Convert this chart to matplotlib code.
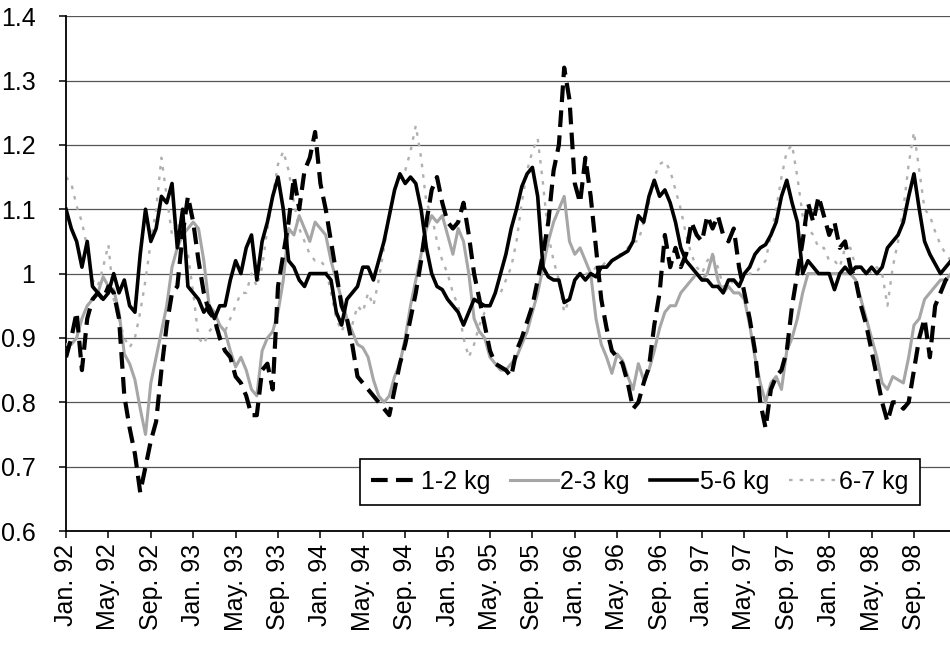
import numpy as np
from matplotlib import pyplot as plt

# tick labels every 4 months, Jan. 92 .. Sep. 98
tick_labels = ["Jan. 92", "May. 92", "Sep. 92", "Jan. 93", "May. 93", "Sep. 93",
               "Jan. 94", "May. 94", "Sep. 94", "Jan. 95", "May. 95", "Sep. 95",
               "Jan. 96", "May. 96", "Sep. 96", "Jan. 97", "May. 97", "Sep. 97",
               "Jan. 98", "May. 98", "Sep. 98"]

# half-month readings, 24 per year (1992 .. 1998)
kg_1_2 = [
    0.87, 0.90, 0.94, 0.85, 0.93, 0.96, 0.97, 0.96, 0.98, 0.97, 0.93, 0.81,
    0.76, 0.72, 0.66, 0.70, 0.74, 0.77, 0.85, 0.92, 0.97, 0.98, 1.06, 1.12,
    1.08, 1.02, 0.97, 0.94, 0.93, 0.90, 0.88, 0.87, 0.84, 0.83, 0.81, 0.78,
    0.78, 0.85, 0.86, 0.82, 0.98, 1.03, 1.08, 1.15, 1.10, 1.16, 1.18, 1.22,
    1.14, 1.10, 1.05, 1.00, 0.95, 0.93, 0.89, 0.84, 0.83, 0.82, 0.81, 0.80,
    0.79, 0.78, 0.82, 0.86, 0.89, 0.93, 0.97, 1.02, 1.08, 1.13, 1.15, 1.11,
    1.08, 1.07, 1.08, 1.11, 1.06, 1.00, 0.96, 0.92, 0.88, 0.86, 0.855, 0.85,
    0.84, 0.88, 0.90, 0.925, 0.95, 0.99, 1.03, 1.08, 1.16, 1.20, 1.32, 1.27,
    1.14, 1.11, 1.18, 1.12, 1.04, 0.96, 0.915, 0.88, 0.87, 0.86, 0.83, 0.79,
    0.80, 0.83, 0.855, 0.92, 0.97, 1.06, 1.01, 1.04, 1.01, 1.03, 1.08, 1.06,
    1.05, 1.09, 1.07, 1.09, 1.06, 1.05, 1.07, 1.01, 0.97, 0.93, 0.88, 0.80,
    0.76, 0.82, 0.84, 0.85, 0.88, 0.95, 1.00, 1.05, 1.11, 1.08, 1.12, 1.09,
    1.06, 1.08, 1.04, 1.05, 1.01, 0.99, 0.95, 0.92, 0.88, 0.84, 0.80, 0.77,
    0.80, 0.80, 0.79, 0.80, 0.85, 0.90, 0.93, 0.87, 0.95, 0.97, 0.99, 1.00,
]

kg_2_3 = [
    0.89, 0.89, 0.90, 0.93, 0.95, 0.96, 0.97, 0.995, 0.98, 0.975, 0.94, 0.875,
    0.86, 0.835, 0.79, 0.75, 0.83, 0.87, 0.91, 0.95, 1.01, 1.04, 1.06, 1.07,
    1.08, 1.07, 1.02, 0.95, 0.94, 0.92, 0.91, 0.88, 0.855, 0.87, 0.85, 0.82,
    0.81, 0.88, 0.90, 0.91, 0.94, 0.99, 1.07, 1.06, 1.09, 1.07, 1.05, 1.08,
    1.07, 1.06, 1.02, 0.99, 0.96, 0.93, 0.91, 0.89, 0.885, 0.87, 0.835, 0.81,
    0.80, 0.81, 0.84, 0.86, 0.90, 0.95, 0.99, 1.03, 1.07, 1.09, 1.08, 1.09,
    1.06, 1.03, 1.07, 1.05, 1.00, 0.93, 0.91, 0.90, 0.87, 0.86, 0.85, 0.85,
    0.86, 0.87, 0.89, 0.91, 0.94, 0.97, 1.01, 1.05, 1.08, 1.10, 1.12, 1.05,
    1.03, 1.04, 1.02, 1.00, 0.93, 0.89, 0.87, 0.845, 0.875, 0.865, 0.84, 0.82,
    0.86, 0.835, 0.85, 0.88, 0.915, 0.94, 0.95, 0.95, 0.97, 0.98, 0.99, 1.00,
    0.99, 1.00, 1.03, 0.99, 0.97, 0.98, 0.97, 0.97, 0.96, 0.92, 0.87, 0.83,
    0.80, 0.83, 0.84, 0.82, 0.88, 0.90, 0.93, 0.97, 1.00, 1.00, 1.00, 1.00,
    1.00, 1.00, 1.00, 1.00, 1.00, 0.99, 0.96, 0.93, 0.90, 0.87, 0.83, 0.82,
    0.84, 0.835, 0.83, 0.87, 0.92, 0.93, 0.96, 0.97, 0.98, 0.99, 0.99, 1.00,
]

kg_5_6 = [
    1.10, 1.07, 1.05, 1.01, 1.05, 0.98, 0.97, 0.96, 0.97, 1.00, 0.97, 0.99,
    0.95, 0.94, 1.03, 1.10, 1.05, 1.07, 1.12, 1.11, 1.14, 1.04, 1.10, 0.98,
    0.97, 0.96, 0.94, 0.95, 0.93, 0.95, 0.95, 0.99, 1.02, 1.00, 1.04, 1.06,
    0.99, 1.05, 1.08, 1.12, 1.15, 1.10, 1.02, 1.01, 0.99, 0.98, 1.00, 1.00,
    1.00, 1.00, 0.99, 0.94, 0.92, 0.96, 0.97, 0.98, 1.01, 1.01, 0.99, 1.02,
    1.05, 1.09, 1.13, 1.155, 1.14, 1.15, 1.14, 1.10, 1.04, 1.00, 0.98, 0.975,
    0.96, 0.95, 0.94, 0.92, 0.94, 0.96, 0.955, 0.95, 0.95, 0.97, 1.00, 1.03,
    1.07, 1.10, 1.135, 1.155, 1.165, 1.12, 1.01, 0.995, 0.99, 0.99, 0.955, 0.96,
    0.99, 1.00, 0.99, 1.00, 0.995, 1.01, 1.01, 1.02, 1.025, 1.03, 1.035, 1.05,
    1.09, 1.08, 1.12, 1.145, 1.12, 1.13, 1.11, 1.08, 1.04, 1.02, 1.01, 1.00,
    0.99, 0.99, 0.98, 0.98, 0.97, 0.99, 0.99, 0.98, 1.00, 1.01, 1.03, 1.04,
    1.045, 1.06, 1.08, 1.12, 1.145, 1.11, 1.08, 1.00, 1.02, 1.01, 1.00, 1.00,
    1.00, 0.975, 1.00, 1.01, 1.00, 1.01, 1.01, 1.00, 1.01, 1.00, 1.01, 1.04,
    1.05, 1.06, 1.08, 1.12, 1.155, 1.10, 1.05, 1.03, 1.015, 1.00, 1.01, 1.02,
]

kg_6_7 = [
    1.15, 1.14, 1.105, 1.08, 1.04, 0.99, 0.98, 1.01, 1.045, 0.96, 0.93, 0.90,
    0.885, 0.90, 0.94, 0.99, 1.05, 1.10, 1.18, 1.12, 1.06, 1.08, 1.06, 1.03,
    0.97, 0.90, 0.89, 0.91, 0.92, 0.90, 0.91, 0.93, 0.95, 0.97, 0.97, 1.00,
    0.98, 1.01, 1.07, 1.12, 1.17, 1.19, 1.16, 1.11, 1.07, 1.05, 1.03, 1.02,
    1.02, 1.01, 0.97, 0.93, 0.91, 0.93, 0.92, 0.95, 0.94, 0.97, 0.95, 0.99,
    1.04, 1.09, 1.13, 1.15, 1.16, 1.19, 1.23, 1.18, 1.11, 1.09, 1.05, 1.02,
    1.00, 0.97, 0.95, 0.90, 0.87, 0.89, 0.92, 0.94, 0.95, 0.97, 0.97, 0.99,
    1.01, 1.05, 1.11, 1.16, 1.19, 1.21, 1.14, 1.06, 1.02, 0.99, 0.94, 0.96,
    0.99, 1.00, 1.00, 1.00, 1.01, 1.01, 1.02, 1.02, 1.03, 1.03, 1.04, 1.05,
    1.05, 1.08, 1.11, 1.15, 1.17, 1.175, 1.16, 1.13, 1.10, 1.06, 1.03, 1.01,
    1.00, 1.02, 1.03, 1.01, 0.98, 0.98, 0.99, 0.99, 0.99, 1.00, 1.00, 1.01,
    1.02, 1.06, 1.10, 1.15, 1.19, 1.20, 1.15, 1.09, 1.07, 1.06, 1.04, 1.04,
    1.02, 1.02, 1.01, 1.04, 1.04, 1.01, 1.00, 1.01, 1.00, 1.01, 1.00, 0.95,
    1.01, 1.05, 1.10, 1.17, 1.22, 1.16, 1.10, 1.09, 1.065, 1.045, 1.03, 1.02,
]

# months since Jan. 92
t = np.arange(len(kg_1_2)) / 2.0

plt.rcParams['font.family'] = ['Liberation Sans', 'DejaVu Sans']

fig = plt.figure(figsize=(9.5, 6.46), dpi=100)
ax = fig.add_axes([0.0695, 0.178, 0.9305, 0.797])

ax.plot(t, kg_1_2, color="black", lw=3.0, linestyle=(0, (4, 2)),
        dash_capstyle="butt", label="1-2 kg", zorder=5)
ax.plot(t, kg_2_3, color="#a6a6a6", lw=2.2, label="2-3 kg", zorder=3)
ax.plot(t, kg_5_6, color="black", lw=2.6, label="5-6 kg", zorder=4)
ax.plot(t, kg_6_7, color="#b0b0b0", lw=1.7, linestyle=(0, (1.5, 3)),
        label="6-7 kg", zorder=2)

ax.set_ylim(0.6, 1.4)
ax.set_xlim(0, 83.4)
yticks = np.round(np.arange(0.6, 1.41, 0.1), 1)
ax.set_yticks(yticks)
ax.set_yticklabels(["1" if v == 1 else f"{v:g}" for v in yticks])
ax.set_xticks(np.arange(len(tick_labels)) * 4)
ax.set_xticklabels(tick_labels, rotation=90)

ax.grid(axis="y", color="#555555", lw=0.9)
ax.set_axisbelow(True)
for side in ("top", "right"):
    ax.spines[side].set_visible(False)
for side in ("left", "bottom"):
    ax.spines[side].set_linewidth(1.3)
ax.tick_params(axis="both", labelsize=18, direction="out", length=5, width=1.1)
ax.tick_params(axis="y", pad=17)
ax.tick_params(axis="x", pad=4)

leg = ax.legend(loc="lower right", bbox_to_anchor=(0.966, 0.05), ncol=4,
                fontsize=18, frameon=True, fancybox=False, handlelength=1.9,
                handletextpad=0.1, columnspacing=0.8, borderpad=0.45,
                borderaxespad=0)
leg.get_frame().set_edgecolor("black")
leg.get_frame().set_linewidth(1.2)
leg.get_frame().set_alpha(1)

fig.savefig("out.png", dpi=100)
